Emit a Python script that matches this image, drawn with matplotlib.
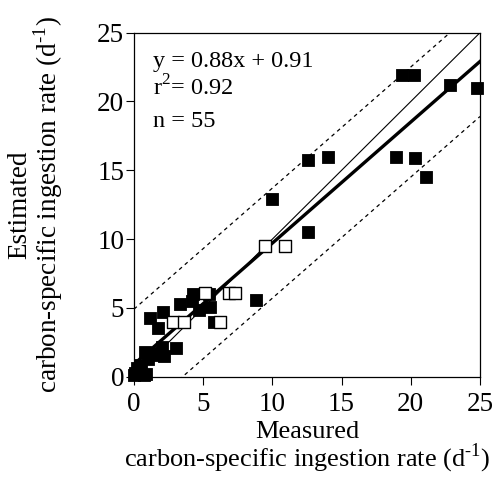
import matplotlib.pyplot as plt
import numpy as np

plt.rcParams['font.family'] = ['Liberation Serif', 'DejaVu Serif']
plt.rcParams['mathtext.fontset'] = 'custom'
plt.rcParams['mathtext.rm'] = 'Liberation Serif'

# filled squares (measured, estimated)
filled_x = [19.4, 20.2, 22.8, 24.8, 12.6, 14.0, 18.9, 20.3, 21.1, 10.0, 12.6, 8.8,
            1.16, 2.12, 1.7, 3.3, 4.25, 5.4, 4.7, 5.5, 4.2, 5.8,
            2.0, 3.0, 0.8, 1.5, 2.2, 1.0, 0.2, 0.0, 0.9, 0.5, 0.4, 1.3, 0.1, 0.7]
filled_y = [21.9, 21.9, 21.2, 21.0, 15.75, 16.0, 16.0, 15.9, 14.5, 12.9, 10.5, 5.6,
            4.3, 4.72, 3.52, 5.25, 6.0, 6.0, 4.85, 5.1, 5.5, 4.0,
            2.18, 2.06, 1.8, 1.55, 1.5, 1.3, 0.6, 0.15, 0.22, 0.5, 0.85, 1.7, 0.3, 0.1]
# open squares
open_x = [9.5, 10.9, 6.9, 7.3, 5.1, 2.85, 3.6, 6.2]
open_y = [9.5, 9.5, 6.1, 6.1, 6.1, 4.0, 4.0, 4.0]

slope, intercept = 0.88, 0.91
band = 4.0

fig = plt.figure(figsize=(4.97, 4.78), dpi=100)
ax = fig.add_axes([0.2696, 0.2119, 0.6962, 0.7197])

xs = np.array([0, 25])
ax.plot(xs, xs, color='black', lw=0.8, zorder=2)
ax.plot(xs, slope * xs + intercept, color='black', lw=2.4, zorder=2)
ax.plot(xs, slope * xs + intercept + band, color='black', lw=0.9, ls=(0, (3, 3)), zorder=2)
ax.plot(xs, slope * xs + intercept - band, color='black', lw=0.9, ls=(0, (3, 3)), zorder=2)

ax.scatter(filled_x, filled_y, marker='s', s=85, c='black', edgecolors='black',
           linewidths=0.6, zorder=3, clip_on=False)
ax.scatter(open_x, open_y, marker='s', s=85, c='white', edgecolors='black',
           linewidths=1.0, zorder=4, clip_on=False)

ax.set_xlim(0, 25)
ax.set_ylim(0, 25)
ax.set_xticks([0, 5, 10, 15, 20, 25])
ax.set_yticks([0, 5, 10, 15, 20, 25])
ax.tick_params(direction='out', length=6, width=0.8, labelsize=19.5)
ax.tick_params(axis='x', pad=5)
ax.tick_params(axis='y', pad=1)
for s in ax.spines.values():
    s.set_linewidth(0.9)

ax.text(0.055, 0.901, 'y = 0.88x + 0.91', transform=ax.transAxes, fontsize=17.5, va='baseline')
ax.text(0.055, 0.816, 'r$^{2}$= 0.92', transform=ax.transAxes, fontsize=17.5, va='baseline')
ax.text(0.055, 0.727, 'n = 55', transform=ax.transAxes, fontsize=17.5, va='baseline')

ax.set_xlabel('Measured\ncarbon-specific ingestion rate (d$^{\\text{-1}}$)', fontsize=19,
              linespacing=0.95, labelpad=3)
ax.set_ylabel('Estimated\ncarbon-specific ingestion rate (d$^{\\text{-1}}$)', fontsize=19.5,
              linespacing=0.95)
ax.yaxis.set_label_coords(-0.2, 0.5)

fig.savefig('out.png', dpi=100)
